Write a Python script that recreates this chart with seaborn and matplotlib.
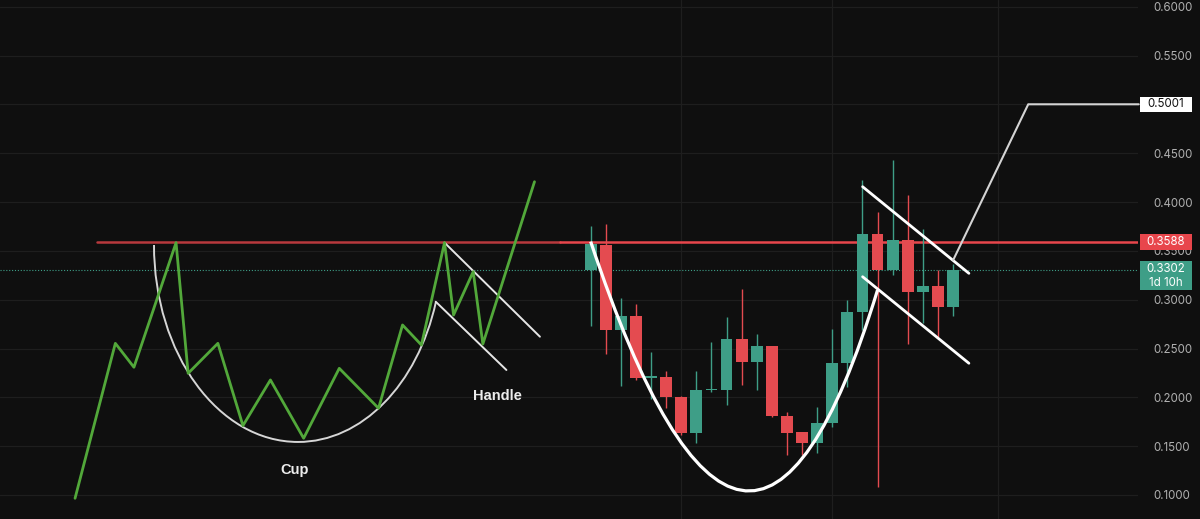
import numpy as np
import pandas as pd
import matplotlib
matplotlib.use("Agg")
import matplotlib.pyplot as plt
import seaborn as sns
from matplotlib.path import Path
from matplotlib.patches import PathPatch, Rectangle
from matplotlib.transforms import blended_transform_factory

# candles (one per bar index)
opens  = [0.330, 0.356, 0.269, 0.283, 0.220, 0.221, 0.200, 0.163, 0.207, 0.208, 0.260, 0.236, 0.253,
          0.181, 0.164, 0.153, 0.174, 0.235, 0.287, 0.367, 0.330, 0.361, 0.308, 0.314, 0.293]
highs  = [0.375, 0.377, 0.302, 0.296, 0.246, 0.227, 0.201, 0.227, 0.257, 0.282, 0.311, 0.265, 0.253,
          0.185, 0.165, 0.190, 0.270, 0.300, 0.423, 0.390, 0.443, 0.407, 0.372, 0.330, 0.337]
lows   = [0.273, 0.244, 0.212, 0.218, 0.198, 0.189, 0.161, 0.153, 0.205, 0.192, 0.213, 0.208, 0.180,
          0.141, 0.141, 0.143, 0.170, 0.211, 0.269, 0.108, 0.325, 0.255, 0.276, 0.262, 0.283]
closes = [0.357, 0.269, 0.283, 0.220, 0.222, 0.200, 0.163, 0.208, 0.209, 0.260, 0.236, 0.253, 0.181,
          0.163, 0.153, 0.174, 0.235, 0.287, 0.367, 0.330, 0.361, 0.308, 0.3145, 0.293, 0.3302]

# schematic cup & handle (left)
zig_x = [-34.15, -31.48, -30.25, -27.46, -26.66, -24.69, -23.03, -21.21, -19.01, -16.65, -14.05,
         -12.46, -11.21, -9.68, -9.08, -7.78, -7.14, -3.72]
zig_y = [0.0966, 0.2553, 0.2308, 0.3584, 0.2246, 0.2553, 0.1710, 0.2178, 0.1581, 0.2297, 0.1888,
         0.2741, 0.2536, 0.3584, 0.2843, 0.3287, 0.2546, 0.4208]
left_cup_x = [-28.92, -28.92, -24.65, -19.38, -15.175, -11.465, -10.25]
left_cup_y = [0.356, 0.2446, 0.1543, 0.1543, 0.1543, 0.2126, 0.2977]
left_handle_top = ([-9.68, -3.36], [0.3584, 0.2621])
left_handle_bot = ([-10.26, -5.58], [0.2979, 0.2280])

# drawings on the candle chart
right_cup_x = [0.0, 10.44, 19.0]
right_cup_y = [0.3595, -0.1252, 0.3099]
flag_top = ([18.01, 25.05], [0.4157, 0.3270])
flag_bot = ([18.01, 25.05], [0.3235, 0.2349])
target_x = [24.01, 28.98, 36.3]
target_y = [0.3406, 0.5001, 0.5001]

resistance = 0.3588
last_price = 0.3302
xlim = (-39.12, 36.25)
ylim = (0.0754, 0.6069)
yticks = [0.10, 0.15, 0.20, 0.25, 0.30, 0.35, 0.40, 0.45, 0.50, 0.55, 0.60]
vgrid = [6, 16, 27]

BG = "#0f0f0f"
GRID = "#1e1e1e"
UP = "#3e9e87"
DOWN = "#e44b50"

sns.set_theme(style="dark", rc={"axes.facecolor": BG, "figure.facecolor": BG})
plt.rcParams['font.family'] = ['Inter', 'DejaVu Sans']

fig = plt.figure(figsize=(12, 5.19), dpi=100)
ax = fig.add_axes([0, 0, 1138 / 1200, 1])
ax.set_facecolor(BG)

ax.set_xlim(*xlim)
ax.set_ylim(*ylim)
ax.set_xticks(vgrid)
ax.set_yticks(yticks)
# 0.5000 sits under the target tag
ax.set_yticklabels(["" if abs(v - 0.5) < 1e-9 else f"{v:.4f}" for v in yticks])
ax.yaxis.tick_right()
ax.tick_params(axis='x', labelbottom=False, length=0)
ax.tick_params(axis='y', length=0, pad=11, labelsize=8.3, labelcolor="#b0b0b0")
ax.grid(True, color=GRID, lw=0.9)
for s in ax.spines.values():
    s.set_visible(False)

# price line
ax.axhline(last_price, color=UP, lw=0.8, ls=(0, (1, 1.6)), zorder=2)

# resistance
ax.plot([-32.7, -2.03], [resistance, resistance], color="#b8393d", lw=1.8, zorder=3)
ax.plot([-2.03, xlim[1]], [resistance, resistance], color="#e8464c", lw=1.8, zorder=3)

# candles
df = pd.DataFrame({"o": opens, "h": highs, "l": lows, "c": closes})
df["x"] = np.arange(len(df))
df["col"] = np.where(df["c"] >= df["o"], UP, DOWN)
ax.vlines(df["x"], df["l"], df["h"], colors=df["col"], lw=1, zorder=4)
body = (df["c"] - df["o"]).abs().clip(lower=0.0018)
ax.bar(df["x"], body, bottom=df[["o", "c"]].min(axis=1), width=0.78, color=df["col"],
       edgecolor="none", linewidth=0, zorder=5)

# schematic
sns.lineplot(x=zig_x, y=zig_y, sort=False, estimator=None, color="#52a83a", lw=2, ax=ax, zorder=6)
lc = list(zip(left_cup_x, left_cup_y))
ax.add_patch(PathPatch(Path(lc, [Path.MOVETO] + [Path.CURVE4] * 6), fc="none", ec="#d6d6d6", lw=1.4, zorder=5))
ax.plot(*left_handle_top, color="#e6e6e6", lw=1.4, zorder=5)
ax.plot(*left_handle_bot, color="#e6e6e6", lw=1.4, zorder=5)
ax.text(-19.6, 0.1256, "Cup", color="#ececec", fontsize=10.5, fontweight="bold",
        family=["Liberation Sans", "DejaVu Sans"], ha="center", va="center")
ax.text(-6.2, 0.2012, "Handle", color="#ececec", fontsize=10.5, fontweight="bold",
        family=["Liberation Sans", "DejaVu Sans"], ha="center", va="center")

# drawings
rc_pts = list(zip(right_cup_x, right_cup_y))
ax.add_patch(PathPatch(Path(rc_pts, [Path.MOVETO, Path.CURVE3, Path.CURVE3]), fc="none", ec="white", lw=2.3, zorder=7))
ax.plot(*flag_top, color="white", lw=2, zorder=7)
ax.plot(*flag_bot, color="white", lw=2, zorder=7)
ax.plot(target_x, target_y, color="#d4d4d4", lw=1.5, zorder=7, clip_on=False)

# price tags on the axis
tr = blended_transform_factory(ax.transAxes, ax.transData)
x0, w = 1140 / 1138, 52 / 1138
tags = [(0.5001, 0.0154, "white", "0.5001", "#111111"),
        (0.3590, 0.0164, "#e8464c", "0.3588", "white")]
for yc, h, fc, txt, tc in tags:
    ax.add_patch(Rectangle((x0, yc - h / 2), w, h, transform=tr, fc=fc, ec="none", clip_on=False, zorder=10))
    ax.text(x0 + w / 2, yc, txt, transform=tr, color=tc, fontsize=8.3, ha="center", va="center", zorder=11)
ax.add_patch(Rectangle((x0, 0.3095), w, 0.0297, transform=tr, fc=UP, ec="none", clip_on=False, zorder=10))
ax.text(x0 + w / 2, 0.3243, "0.3302\n1d 10h", transform=tr, color="white", fontsize=8.3,
        ha="center", va="center", linespacing=1.15, zorder=11)

fig.savefig("out.png", dpi=100, facecolor=BG)
